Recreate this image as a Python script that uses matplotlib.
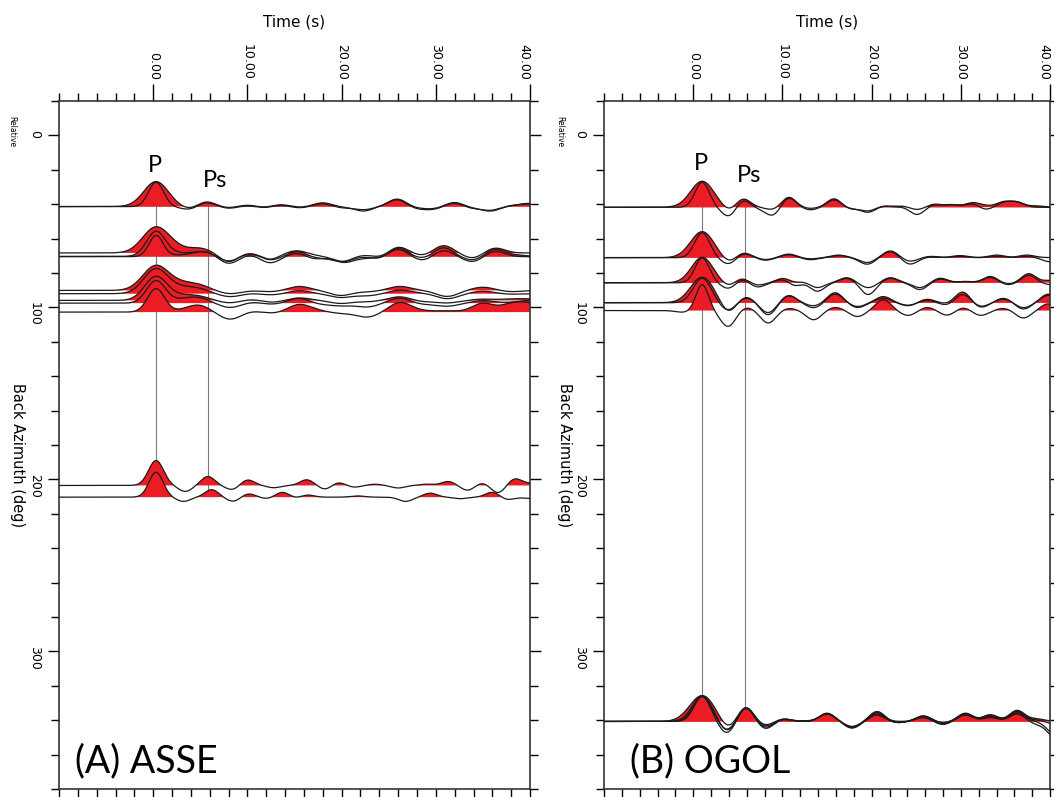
import numpy as np
import matplotlib
matplotlib.use('Agg')
import matplotlib.pyplot as plt
from matplotlib import ticker

# time axis of the receiver functions (s)
t = np.linspace(-10, 40, 1501)
SCALE = 14.5          # degrees of back azimuth per unit of amplitude
RED = '#ec1c24'

# ---------------- (A) ASSE ----------------
ASSE_P_TIME = 0.3
ASSE_PS_TIME = 5.8

ASSE_G1_T = [3.9, 5.6, 8.0, 10.0, 11.8, 13.5, 15.5, 18.0, 20.0, 22.3, 25.9, 28.0, 29.7, 32.0, 33.8, 35.8, 38.0, 39.8]
ASSE_G2_T = [2.5, 4.5, 5.8, 8.0, 10.3, 12.4, 15.3, 17.0, 18.5, 20.2, 22.0, 24.1, 26.0, 28.6, 30.8, 33.9, 36.3, 38.5]
ASSE_G3_T = [3.0, 4.8, 8.2, 10.5, 12.5, 15.5, 17.5, 19.9, 22.7, 26.2, 28.5, 31.2, 35.0, 38.0, 40.0]
ASSE_G4A_T = [3.4, 5.8, 8.4, 10.0, 12.8, 16.3, 18.3, 19.6, 21.3, 23.5, 26.0, 29.0, 31.3, 33.4, 34.9, 36.6, 38.4, 40.0]
ASSE_G4B_T = [3.2, 6.2, 8.5, 10.1, 12.1, 13.7, 15.3, 16.3, 19.0, 21.7, 26.8, 29.4, 32.6, 36.0, 37.6, 40.0]

ASSE_BAZ = [41.3, 41.4, 68.3, 70.3, 70.5, 90.1, 92.0, 95.9, 97.5, 102.7, 203.5, 210.3]
ASSE_P_AMP = [1.0, 0.98, 1.04, 1.0, 0.85, 1.0, 1.0, 0.96, 0.9, 0.94, 1.0, 1.0]
ASSE_P_WIDTH = [1.3, 0.8, 1.4, 1.0, 0.75, 1.4, 1.3, 1.2, 1.0, 0.9, 0.8, 0.75]
ASSE_WIG_WIDTH = [0.95, 0.95, 1.0, 1.0, 1.0, 1.15, 1.15, 1.15, 1.15, 1.15, 0.72, 0.72]
ASSE_WIG_TIMES = [ASSE_G1_T, ASSE_G1_T, ASSE_G2_T, ASSE_G2_T, ASSE_G2_T,
                  ASSE_G3_T, ASSE_G3_T, ASSE_G3_T, ASSE_G3_T, ASSE_G3_T,
                  ASSE_G4A_T, ASSE_G4B_T]
ASSE_WIG_AMPS = [
    [-0.1, 0.2, -0.05, 0.06, -0.04, 0.08, -0.03, 0.15, -0.02, -0.18, 0.3, -0.05, -0.08, 0.17, -0.05, -0.18, 0.02, 0.12],
    [-0.12, 0.18, -0.07, 0.04, -0.05, 0.06, -0.05, 0.12, -0.05, -0.12, 0.28, -0.08, -0.1, 0.15, -0.07, -0.14, 0.04, 0.1],
    [0.12, 0.15, 0.08, -0.35, 0.02, -0.25, 0.1, -0.05, -0.1, -0.3, -0.05, -0.15, 0.25, -0.1, 0.3, -0.2, 0.2, 0.0],
    [0.1, 0.12, 0.12, -0.2, 0.12, -0.15, 0.2, -0.05, -0.05, -0.2, 0.0, -0.1, 0.35, -0.08, 0.35, -0.15, 0.28, 0.05],
    [0.05, 0.1, 0.15, -0.28, 0.08, -0.25, 0.15, -0.1, 0.0, -0.22, -0.05, -0.05, 0.3, -0.15, 0.25, -0.2, 0.22, 0.0],
    [0.2, 0.2, -0.13, 0.0, -0.05, 0.16, 0.0, -0.2, -0.05, 0.16, 0.0, -0.24, 0.13, -0.05, 0.0],
    [0.18, 0.18, -0.12, 0.02, -0.05, 0.12, 0.0, -0.15, -0.08, 0.14, 0.02, -0.2, 0.1, -0.02, 0.0],
    [0.15, 0.15, -0.1, 0.05, -0.08, 0.1, 0.0, -0.12, -0.05, 0.15, -0.05, -0.1, 0.05, 0.05, 0.05],
    [0.12, 0.2, -0.18, 0.05, -0.05, 0.2, -0.05, -0.1, -0.15, 0.2, -0.05, -0.12, 0.1, 0.02, 0.1],
    [0.05, 0.27, -0.29, 0.05, -0.05, 0.3, 0.05, -0.05, -0.2, 0.38, 0.05, 0.05, 0.35, 0.3, 0.3],
    [-0.24, 0.36, -0.17, 0.23, -0.09, 0.23, -0.16, 0.13, -0.07, 0.05, -0.1, 0.05, 0.16, -0.2, 0.11, -0.3, 0.27, 0.07],
    [-0.17, 0.3, -0.17, 0.14, -0.06, 0.2, -0.05, 0.1, 0.0, 0.05, -0.17, 0.16, -0.06, 0.2, -0.1, -0.05],
]

# ---------------- (B) OGOL ----------------
OGOL_P_TIME = 1.0
OGOL_PS_TIME = 5.8

OGOL_G1_T = [4.0, 5.6, 7.2, 8.9, 10.7, 13.1, 15.8, 17.6, 19.6, 21.3, 23.4, 25.1, 27.0, 29.0, 31.3, 32.7, 34.8, 36.3, 38.5]
OGOL_G2_T = [4.0, 5.6, 8.1, 10.7, 13.1, 16.3, 19.5, 22.1, 24.3, 26.6, 29.9, 34.0, 37.4, 40.0]
OGOL_G3_T = [4.0, 5.4, 7.2, 10.1, 11.4, 12.2, 13.9, 17.2, 19.6, 22.1, 25.4, 27.7, 30.5, 33.3, 35.3, 37.6, 40.0]
OGOL_G4_T = [-1.1, 3.9, 5.9, 8.4, 10.7, 13.5, 15.9, 18.4, 21.3, 24.1, 26.2, 28.5, 30.2, 32.2, 34.8, 37.0, 39.8]
OGOL_G5_T = [3.8, 5.9, 8.1, 10.1, 12.5, 15.0, 17.8, 20.6, 22.9, 25.8, 27.9, 30.5, 33.3, 36.3, 38.5, 40.5]

OGOL_BAZ = [41.7, 41.8, 71.0, 71.1, 85.6, 85.7, 97.2, 97.3, 101.8, 340.7, 340.7, 340.7, 340.7]
OGOL_P_AMP = [1.04, 1.0, 1.04, 1.0, 1.02, 1.0, 1.02, 0.98, 1.04, 1.04, 1.0, 1.02, 1.0]
OGOL_P_WIDTH = [1.3, 0.8, 1.3, 0.85, 1.2, 0.8, 1.3, 1.0, 0.7, 1.4, 0.9, 1.1, 1.0]
OGOL_WIG_WIDTH = [0.8, 0.8, 0.85, 0.85, 0.8, 0.8, 0.85, 0.85, 0.85, 0.85, 0.85, 0.85, 0.85]
OGOL_WIG_TIMES = [OGOL_G1_T, OGOL_G1_T, OGOL_G2_T, OGOL_G2_T, OGOL_G3_T, OGOL_G3_T,
                  OGOL_G4_T, OGOL_G4_T, OGOL_G4_T,
                  OGOL_G5_T, OGOL_G5_T, OGOL_G5_T, OGOL_G5_T]
OGOL_WIG_AMPS = [
    [-0.15, 0.34, 0.0, -0.1, 0.4, -0.05, 0.34, -0.08, -0.15, 0.05, 0.05, -0.1, 0.12, 0.1, 0.17, 0.05, 0.2, 0.18, 0.05],
    [-0.37, 0.3, -0.05, -0.33, 0.38, -0.1, 0.3, -0.05, -0.2, 0.05, 0.02, -0.29, 0.1, 0.1, 0.15, -0.1, 0.18, 0.2, 0.0],
    [-0.2, 0.2, -0.08, 0.14, -0.05, 0.1, -0.2, 0.27, -0.15, 0.05, 0.08, 0.1, 0.1, 0.0],
    [-0.26, 0.18, -0.1, 0.12, -0.08, 0.08, -0.26, 0.25, -0.26, 0.03, 0.05, 0.05, 0.05, -0.16],
    [-0.15, 0.18, -0.1, 0.18, -0.05, 0.06, -0.2, 0.2, -0.2, 0.2, -0.2, 0.18, 0.05, 0.25, -0.05, 0.36, 0.09],
    [-0.24, 0.15, -0.17, 0.15, -0.17, 0.05, -0.34, 0.18, -0.47, 0.18, -0.27, 0.15, 0.05, 0.22, -0.08, 0.3, -0.07],
    [0.0, -0.4, 0.23, -0.49, 0.27, -0.13, 0.4, -0.2, 0.18, -0.13, 0.14, -0.05, 0.44, -0.2, 0.18, -0.26, 0.34],
    [0.0, -0.3, 0.2, -0.4, 0.3, -0.2, 0.35, -0.15, 0.25, -0.1, 0.1, -0.1, 0.35, -0.15, 0.15, -0.2, 0.3],
    [-0.07, -0.64, 0.13, -0.5, 0.09, -0.37, 0.13, -0.24, 0.43, -0.2, 0.13, -0.2, 0.13, -0.2, 0.09, -0.3, 0.27],
    [-0.3, 0.57, -0.15, 0.1, 0.0, 0.33, -0.27, 0.4, -0.05, 0.23, -0.05, 0.33, 0.27, 0.44, 0.1, 0.0],
    [-0.47, 0.55, -0.3, 0.1, 0.02, 0.3, -0.25, 0.25, -0.05, 0.2, -0.13, 0.3, 0.2, 0.35, 0.0, -0.5],
    [-0.4, 0.55, -0.25, 0.08, 0.0, 0.32, -0.22, 0.3, 0.0, 0.15, -0.1, 0.25, 0.15, 0.3, -0.1, -0.6],
    [-0.35, 0.56, -0.2, 0.1, 0.0, 0.3, -0.2, 0.35, -0.05, 0.2, -0.05, 0.28, 0.22, 0.4, 0.05, -0.1],
]


def make_rf(p_time, p_amp, p_width, times, amps, width):
    # sum of gaussian pulses: direct P plus the later arrivals
    rf = p_amp * np.exp(-0.5 * ((t - p_time) / p_width) ** 2)
    for ti, ai in zip(times, amps):
        rf = rf + ai * np.exp(-0.5 * ((t - ti) / width) ** 2)
    return rf


def draw_panel(ax, name, name_x, p_time, ps_time, baz, p_amp, p_width, wig_w, wig_t, wig_a):
    ys = []
    for i in range(len(baz)):
        rf = make_rf(p_time, p_amp[i], p_width[i], wig_t[i], wig_a[i], wig_w[i])
        y = baz[i] - SCALE * rf
        ys.append(y)
        ax.fill_between(t, baz[i], y, where=y < baz[i], interpolate=True,
                        facecolor=RED, edgecolor='none', zorder=2)
    for y in ys:
        ax.plot(t, y, color='#1a1a1a', lw=0.9, zorder=3)

    # P and Ps marker lines
    for tm in (p_time, ps_time):
        k = np.argmin(np.abs(t - tm))
        ax.plot([tm, tm], [ys[0][k], ys[-1][k]], color='#7a7a7a', lw=0.8, zorder=1)

    ax.set_xlim(-10, 40)
    ax.set_ylim(380, -20)
    ax.xaxis.tick_top()
    ax.xaxis.set_ticks_position('both')
    ax.yaxis.set_ticks_position('both')
    ax.xaxis.set_major_locator(ticker.FixedLocator([0, 10, 20, 30, 40]))
    ax.xaxis.set_major_formatter(ticker.FormatStrFormatter('%.2f'))
    ax.xaxis.set_minor_locator(ticker.MultipleLocator(2))
    ax.yaxis.set_major_locator(ticker.FixedLocator([0, 100, 200, 300]))
    ax.yaxis.set_minor_locator(ticker.MultipleLocator(20))
    ax.tick_params(axis='x', which='major', direction='out', length=12, width=1.0,
                   labelsize=9, labelrotation=270, pad=3,
                   labeltop=True, labelbottom=False)
    ax.tick_params(axis='x', which='minor', direction='out', length=6, width=1.0)
    ax.tick_params(axis='y', which='major', direction='out', length=8, width=1.0,
                   labelsize=9, labelrotation=270, pad=5,
                   labelleft=True, labelright=False)
    ax.tick_params(axis='y', which='minor', direction='out', length=6, width=1.0)
    for s in ax.spines.values():
        s.set_linewidth(1.2)
        s.set_color('#333333')
    # keep the last time label inside the figure
    ax.get_xticklabels()[-1].set_horizontalalignment('right')

    ax.text(-0.088, 0.485, 'Back Azimuth (deg)', transform=ax.transAxes,
            rotation=270, ha='center', va='center', fontsize=10.5)
    ax.text(-0.1, 0.955, 'Relative', transform=ax.transAxes,
            rotation=270, ha='center', va='center', fontsize=5.5)
    ax.text(0.5, 1.115, 'Time (s)', transform=ax.transAxes,
            ha='center', va='center', fontsize=11)
    ax.text(name_x, 0.025, name, transform=ax.transAxes, family='Lato',
            fontsize=27, ha='left', va='baseline')


fig = plt.figure(figsize=(10.54, 7.97), dpi=100)
ax1 = fig.add_axes([0.0560, 0.0100, 0.4469, 0.8632])
ax2 = fig.add_axes([0.5731, 0.0100, 0.4232, 0.8632])

draw_panel(ax1, '(A) ASSE', 0.034, ASSE_P_TIME, ASSE_PS_TIME, ASSE_BAZ, ASSE_P_AMP,
           ASSE_P_WIDTH, ASSE_WIG_WIDTH, ASSE_WIG_TIMES, ASSE_WIG_AMPS)
draw_panel(ax2, '(B) OGOL', 0.058, OGOL_P_TIME, OGOL_PS_TIME, OGOL_BAZ, OGOL_P_AMP,
           OGOL_P_WIDTH, OGOL_WIG_WIDTH, OGOL_WIG_TIMES, OGOL_WIG_AMPS)

# phase labels
ax1.text(0.2, 21.3, 'P', family='Lato', fontsize=17, ha='center', va='baseline')
ax1.text(6.6, 30.0, 'Ps', family='Lato', fontsize=17, ha='center', va='baseline')
ax2.text(0.86, 19.8, 'P', family='Lato', fontsize=17, ha='center', va='baseline')
ax2.text(6.3, 27.2, 'Ps', family='Lato', fontsize=17, ha='center', va='baseline')

fig.savefig('out.png', dpi=100)
